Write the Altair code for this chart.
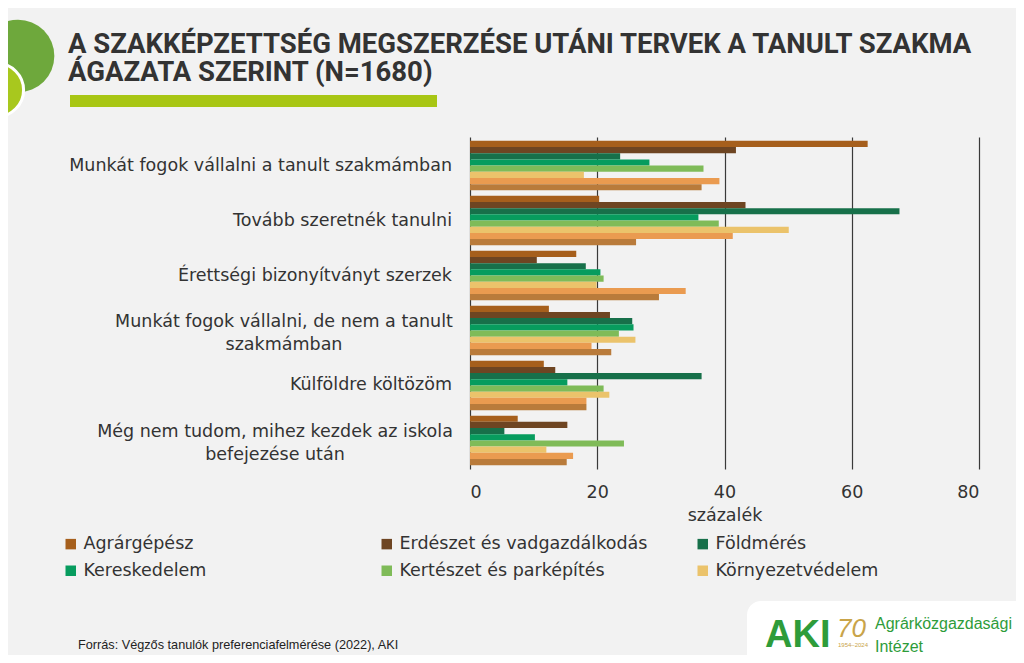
import altair as alt
import pandas as pd

categories = [
    "Munkát fogok vállalni a tanult szakmámban",
    "Tovább szeretnék tanulni",
    "Érettségi bizonyítványt szerzek",
    "Munkát fogok vállalni, de nem a tanult szakmámban",
    "Külföldre költözöm",
    "Még nem tudom, mihez kezdek az iskola befejezése után",
]
# how each category label is wrapped on the chart
category_lines = [
    ["Munkát fogok vállalni a tanult szakmámban"],
    ["Tovább szeretnék tanulni"],
    ["Érettségi bizonyítványt szerzek"],
    ["Munkát fogok vállalni, de nem a tanult", "szakmámban"],
    ["Külföldre költözöm"],
    ["Még nem tudom, mihez kezdek az iskola", "befejezése után"],
]
series = [
    "Agrárgépész",
    "Erdészet és vadgazdálkodás",
    "Földmérés",
    "Kereskedelem",
    "Kertészet és parképítés",
    "Környezetvédelem",
    "Mezőgazdaság",
    "Vízügy",
]
colors = ["#A65F1C", "#6E4522", "#17704A", "#079C5E", "#7FBB58", "#EBC36B", "#EA9B50", "#B97B3B"]

v_agrargepesz = [62.5, 20.3, 16.7, 12.4, 11.6, 7.5]
v_erdeszet = [41.8, 43.3, 10.5, 22.0, 13.4, 15.3]
v_foldmeres = [23.6, 67.5, 18.2, 25.5, 36.4, 5.4]
v_kereskedelem = [28.2, 35.9, 20.5, 25.7, 15.3, 10.2]
v_kerteszet = [36.7, 39.1, 21.0, 23.4, 21.0, 24.2]
v_kornyezet = [17.9, 50.1, 19.9, 26.0, 21.9, 12.0]
v_series7 = [39.2, 41.3, 33.9, 19.1, 18.3, 16.2]
v_series8 = [36.4, 26.1, 29.7, 22.2, 18.3, 15.2]

all_values = [v_agrargepesz, v_erdeszet, v_foldmeres, v_kereskedelem,
              v_kerteszet, v_kornyezet, v_series7, v_series8]

rows = []
for s, vals in zip(series, all_values):
    for c, v in zip(categories, vals):
        rows.append({"category": c, "series": s, "value": v})
df = pd.DataFrame(rows)

labels_df = pd.DataFrame({
    "category": categories,
    "label": ["\n".join(l) for l in category_lines],
    "multi": [len(l) > 1 for l in category_lines],
})

title_text = "A SZAKKÉPZETTSÉG MEGSZERZÉSE UTÁNI TERVEK A TANULT SZAKMA\nÁGAZATA SZERINT (N=1680)"
source_text = "Forrás: Végzős tanulók preferenciafelmérése (2022), AKI"

FONT = "DejaVu Sans"
FS = 17.5
TXT = "#333333"

y_enc = alt.Y(
    "category:N", sort=categories,
    scale=alt.Scale(domain=categories, paddingInner=0.1, paddingOuter=0.07),
    axis=None,
)

bars = alt.Chart(df).mark_bar().encode(
    x=alt.X(
        "value:Q",
        scale=alt.Scale(domain=[0, 80]),
        axis=alt.Axis(
            values=[0, 20, 40, 60, 80], title="százalék", grid=True,
            gridColor="#3a3a3a", gridWidth=1.2, domain=False, ticks=False,
            labelFont=FONT, labelFontSize=FS, labelColor=TXT, labelPadding=14,
            titleFont=FONT, titleFontSize=FS, titleColor=TXT, titleFontWeight="normal",
            titlePadding=6,
        ),
    ),
    y=y_enc,
    yOffset=alt.YOffset("series:N", sort=series, scale=alt.Scale(paddingInner=0, paddingOuter=0)),
    color=alt.Color(
        "series:N",
        scale=alt.Scale(domain=series, range=colors),
        legend=alt.Legend(
            values=series[:6], title=None, orient="none", legendX=-408, legendY=398,
            direction="horizontal", columns=3, gridAlign="all", columnPadding=46,
            rowPadding=8, symbolType="square", symbolSize=110, symbolStrokeWidth=0,
            labelFont=FONT, labelFontSize=FS, labelColor=TXT, labelOffset=4,
            labelLimit=400,
        ),
    ),
)

label_single = alt.Chart(labels_df).transform_filter("!datum.multi").mark_text(
    align="right", baseline="middle", font=FONT, fontSize=FS, color=TXT,
).encode(y=y_enc, x=alt.value(-18), text="label:N")

label_multi_a = alt.Chart(labels_df).transform_filter(
    alt.datum.category == categories[3]
).mark_text(
    align="center", baseline="middle", font=FONT, fontSize=FS, color=TXT,
    lineBreak="\n", lineHeight=23, dy=-8,
).encode(y=y_enc, x=alt.value(-186), text="label:N")

label_multi_b = alt.Chart(labels_df).transform_filter(
    alt.datum.category == categories[5]
).mark_text(
    align="center", baseline="middle", font=FONT, fontSize=FS, color=TXT,
    lineBreak="\n", lineHeight=23, dy=-8,
).encode(y=y_enc, x=alt.value(-195), text="label:N")

one = pd.DataFrame({"d": [0]})

circle_dark = alt.Chart(one).mark_circle(color="#6EA83C", opacity=1, size=5281).encode(
    x=alt.value(-452), y=alt.value(-81))
circle_light = alt.Chart(one).mark_circle(color="#A8C81E", opacity=1, size=2827,
                                           stroke="white", strokeWidth=3).encode(
    x=alt.value(-473), y=alt.value(-47))

title = alt.Chart(one).mark_text(
    align="left", baseline="alphabetic", lineBreak="\n", lineHeight=28,
    font="Roboto", fontSize=27.5, fontWeight="bold", color="#333333",
).encode(x=alt.value(-402), y=alt.value(-84), text=alt.value(title_text))

underline = alt.Chart(one).mark_rect(color="#A8C614").encode(
    x=alt.value(-400), x2=alt.value(-33), y=alt.value(-42), y2=alt.value(-30))

source = alt.Chart(one).mark_text(
    align="left", baseline="alphabetic", font="Liberation Sans",
    fontSize=12.7, color="#222222",
).encode(x=alt.value(-392), y=alt.value(512), text=alt.value(source_text))

logo_box = alt.Chart(one).mark_rect(color="white", cornerRadiusTopLeft=14).encode(
    x=alt.value(277), x2=alt.value(560), y=alt.value(464), y2=alt.value(530))
logo_aki = alt.Chart(one).mark_text(
    align="left", baseline="alphabetic", font="Liberation Sans", fontSize=38,
    fontWeight="bold", color="#2E9C3A",
).encode(x=alt.value(295), y=alt.value(510), text=alt.value("AKI"))
logo_70 = alt.Chart(one).mark_text(
    align="left", baseline="alphabetic", font="Liberation Sans", fontSize=26,
    fontStyle="italic", color="#C9A449",
).encode(x=alt.value(367), y=alt.value(500), text=alt.value("70"))
logo_years = alt.Chart(one).mark_text(
    align="left", baseline="alphabetic", font="Liberation Sans", fontSize=6,
    color="#C9A449",
).encode(x=alt.value(368), y=alt.value(510), text=alt.value("1954–2024"))
logo_name = alt.Chart(one).mark_text(
    align="left", baseline="alphabetic", lineBreak="\n", lineHeight=23,
    font="Liberation Sans", fontSize=16, color="#2E9C3A",
).encode(x=alt.value(405), y=alt.value(492), text=alt.value("Agrárközgazdasági\nIntézet"))

chart = alt.layer(
    bars, label_single, label_multi_a, label_multi_b, circle_dark, circle_light,
    title, underline, source, logo_box, logo_aki, logo_70, logo_years, logo_name,
).properties(
    width=509, height=332,
    autosize=alt.AutoSizeParams(type="none"),
    padding={"left": 462, "top": 129, "right": 37, "bottom": 186},
    background="#F2F2F2",
).configure_view(stroke=None)

chart.save("out.html", embed_options={"renderer": "svg", "actions": False})
